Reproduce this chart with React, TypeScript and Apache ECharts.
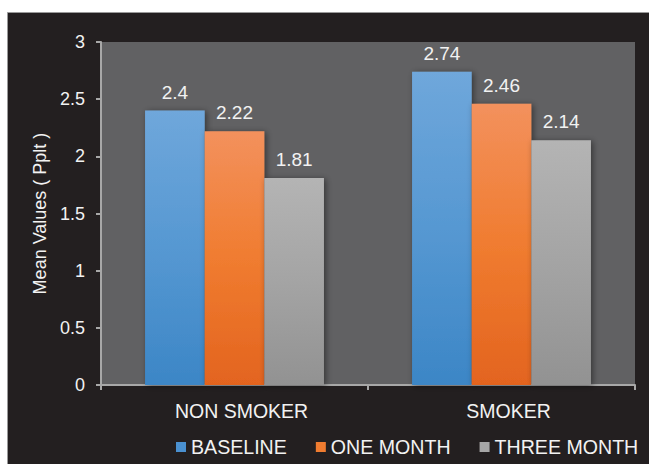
import React, { useEffect, useRef } from "react";
import * as echarts from "echarts";

const categories = ["NON SMOKER", "SMOKER"];
const seriesNames = ["BASELINE", "ONE MONTH", "THREE MONTH"];
const baseline = [2.4, 2.74];
const oneMonth = [2.22, 2.46];
const threeMonth = [1.81, 2.14];
const yTicks = { min: 0, max: 3, interval: 0.5 };

const gradients = [
  ["#6fa7db", "#5698d2", "#3c86c6"],
  ["#f3915d", "#f07c30", "#e3641f"],
  ["#b4b4b4", "#a4a4a4", "#929292"],
];
const legendColors = ["#4a90d0", "#f07c30", "#a6a6a6"];

export default function App() {
  const ref = useRef<HTMLDivElement>(null);
  useEffect(() => {
    if (!ref.current) return;
    const chart = echarts.init(ref.current, null, { renderer: "svg" });
    const values = [baseline, oneMonth, threeMonth];
    const font = "'Liberation Sans', Arial, sans-serif";
    chart.setOption({
      animation: false,
      backgroundColor: "#ffffff",
      textStyle: { fontFamily: font },
      graphic: [
        {
          type: "rect",
          z: -10,
          silent: true,
          shape: { x: 7.5, y: 12.5, width: 660, height: 470 },
          style: { fill: "#231f20", stroke: "#9a9a9a", lineWidth: 1 },
        },
      ],
      grid: {
        left: 101,
        right: 14,
        top: 42,
        bottom: 79,
        show: true,
        backgroundColor: "#616163",
        borderWidth: 0,
      },
      legend: {
        data: seriesNames.map((n, i) => ({
          name: n,
          itemStyle: { color: legendColors[i] },
        })),
        left: 176,
        top: 437,
        padding: 0,
        icon: "rect",
        itemWidth: 10,
        itemHeight: 10,
        itemGap: 29,
        textStyle: { color: "#f2f2f2", fontSize: 19.6, fontFamily: font },
      },
      xAxis: {
        type: "category",
        data: categories,
        axisLine: { lineStyle: { color: "#a8a8a8", width: 2 } },
        axisTick: { show: true, length: 5, alignWithLabel: false, lineStyle: { color: "#a8a8a8", width: 2 } },
        axisLabel: { color: "#f2f2f2", fontSize: 19.5, margin: 16, padding: [0, 0, 0, 14], fontFamily: font },
        splitLine: { show: false },
      },
      yAxis: {
        type: "value",
        min: yTicks.min,
        max: yTicks.max,
        interval: yTicks.interval,
        name: "Mean Values ( Pplt )",
        nameLocation: "middle",
        nameGap: 47,
        nameRotate: 90,
        nameTextStyle: { color: "#f2f2f2", fontSize: 18, fontFamily: font },
        axisLine: { show: true, lineStyle: { color: "#a8a8a8", width: 2 } },
        axisTick: { show: true, length: 5, lineStyle: { color: "#a8a8a8", width: 2 } },
        axisLabel: { color: "#f2f2f2", fontSize: 18, margin: 16, fontFamily: font },
        splitLine: { show: false },
      },
      series: seriesNames.map((name, i) => ({
        name,
        type: "bar",
        data: values[i],
        barGap: "0%",
        barCategoryGap: "33%",
        itemStyle: {
          color: new echarts.graphic.LinearGradient(0, 0, 0, 1, [
            { offset: 0, color: gradients[i][0] },
            { offset: 0.5, color: gradients[i][1] },
            { offset: 1, color: gradients[i][2] },
          ]),
          shadowColor: "rgba(0,0,0,0.45)",
          shadowBlur: 6,
          shadowOffsetX: 2,
          shadowOffsetY: 1,
        },
        label: {
          show: true,
          position: "top",
          distance: 9,
          color: "#f2f2f2",
          fontSize: 19,
          fontFamily: font,
        },
      })),
    });
    return () => chart.dispose();
  }, []);
  return (
    <div
      ref={ref}
      style={{ position: "fixed", left: 0, top: 0, width: 649, height: 464 }}
    />
  );
}
